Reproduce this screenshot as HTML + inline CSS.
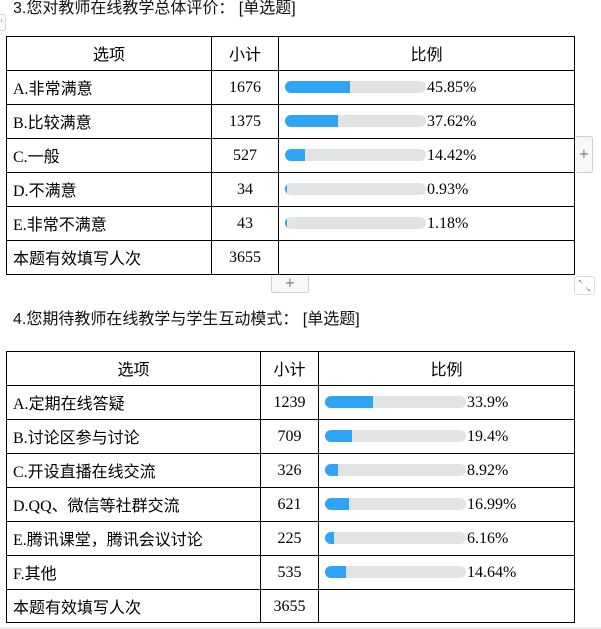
<!DOCTYPE html>
<html><head><meta charset="utf-8">
<style>
html,body{margin:0;padding:0;background:#fff;}
body{width:601px;height:629px;position:relative;overflow:hidden;font-family:"Liberation Serif","Noto Sans CJK SC",serif;color:#000;}
.t{position:absolute;font-family:"Liberation Sans","Noto Sans CJK SC",sans-serif;font-size:16px;line-height:18px;white-space:nowrap;color:#111;}
.h{position:absolute;background:#000;height:1px;}
.v{position:absolute;background:#000;width:1px;}
.c{position:absolute;font-size:16px;line-height:34px;height:34px;white-space:nowrap;font-family:"Liberation Serif","Noto Sans CJK SC",serif;}
.n{margin-top:1px;}
.cn{font-family:"Noto Sans CJK SC","Liberation Sans",sans-serif;}
.bar{position:absolute;width:141px;height:12px;background:#e2e3e5;border-radius:6px;overflow:hidden;}
.bar i{position:absolute;left:0;top:0;bottom:0;background:#2fa3f6;}
.pct{position:absolute;font-size:16px;line-height:34px;height:34px;margin-top:1px;font-family:"Liberation Serif",serif;}
</style></head><body>

<!-- left tab -->
<div style="position:absolute;left:-3px;top:14px;width:7px;height:15px;border:1px solid #d8d8d8;border-radius:2px;background:#fafafa;"></div>
<div style="position:absolute;left:0px;top:17px;font-size:8px;line-height:8px;color:#888;font-family:'DejaVu Sans',sans-serif;">›</div>

<div class="t" style="left:13px;top:0px;">3.您对教师在线教学总体评价：&nbsp;[单选题]</div>

<!-- Table 1 grid -->
<div class="h" style="left:6px;width:569px;top:36px;"></div>
<div class="h" style="left:6px;width:569px;top:70px;"></div>
<div class="h" style="left:6px;width:569px;top:104px;"></div>
<div class="h" style="left:6px;width:569px;top:138px;"></div>
<div class="h" style="left:6px;width:569px;top:172px;"></div>
<div class="h" style="left:6px;width:569px;top:206px;"></div>
<div class="h" style="left:6px;width:569px;top:240px;"></div>
<div class="h" style="left:6px;width:569px;top:274px;"></div>
<div class="v" style="left:6px;top:36px;height:239px;"></div>
<div class="v" style="left:211px;top:36px;height:239px;"></div>
<div class="v" style="left:278px;top:36px;height:239px;"></div>
<div class="v" style="left:574px;top:36px;height:239px;"></div>

<div class="c cn" style="left:7px;width:204px;text-align:center;top:36px;">选项</div>
<div class="c cn" style="left:212px;width:66px;text-align:center;top:36px;">小计</div>
<div class="c cn" style="left:279px;width:295px;text-align:center;top:36px;">比例</div>

<div class="c" style="left:13px;top:70px;">A.<span class="cn">非常满意</span></div>
<div class="c n" style="left:212px;width:66px;text-align:center;top:70px;">1676</div>
<div class="bar" style="left:285px;top:81px;"><i style="width:65px"></i></div>
<div class="pct" style="left:427px;top:70px;">45.85%</div>

<div class="c" style="left:13px;top:104px;">B.<span class="cn">比较满意</span></div>
<div class="c n" style="left:212px;width:66px;text-align:center;top:104px;">1375</div>
<div class="bar" style="left:285px;top:115px;"><i style="width:53px"></i></div>
<div class="pct" style="left:427px;top:104px;">37.62%</div>

<div class="c" style="left:13px;top:138px;">C.<span class="cn">一般</span></div>
<div class="c n" style="left:212px;width:66px;text-align:center;top:138px;">527</div>
<div class="bar" style="left:285px;top:149px;"><i style="width:20px"></i></div>
<div class="pct" style="left:427px;top:138px;">14.42%</div>

<div class="c" style="left:13px;top:172px;">D.<span class="cn">不满意</span></div>
<div class="c n" style="left:212px;width:66px;text-align:center;top:172px;">34</div>
<div class="bar" style="left:285px;top:183px;"><i style="width:1.5px"></i></div>
<div class="pct" style="left:427px;top:172px;">0.93%</div>

<div class="c" style="left:13px;top:206px;">E.<span class="cn">非常不满意</span></div>
<div class="c n" style="left:212px;width:66px;text-align:center;top:206px;">43</div>
<div class="bar" style="left:285px;top:217px;"><i style="width:2px"></i></div>
<div class="pct" style="left:427px;top:206px;">1.18%</div>

<div class="c cn" style="left:13px;top:240px;">本题有效填写人次</div>
<div class="c n" style="left:212px;width:66px;text-align:center;top:240px;">3655</div>

<!-- buttons -->
<div style="position:absolute;left:576px;top:136px;width:16px;height:35px;border:1px solid #cfcfcf;border-left:none;border-radius:0 3px 3px 0;background:#f8f8f8;color:#777;font-family:'DejaVu Sans',sans-serif;font-size:13px;line-height:35px;text-align:center;">+</div>
<div style="position:absolute;left:271px;top:275px;width:36px;height:17px;border:1px solid #cfcfcf;border-top:none;border-radius:0 0 3px 3px;background:#f8f8f8;color:#777;font-family:'DejaVu Sans',sans-serif;font-size:13px;line-height:17px;text-align:center;">+</div>
<div style="position:absolute;left:574px;top:276px;width:19px;height:17px;border:1px solid #dcdcdc;border-radius:3px;background:#fff;color:#888;font-family:'DejaVu Sans',sans-serif;font-size:7px;line-height:7px;">
<span style="position:absolute;left:3px;top:2px;">↖</span><span style="position:absolute;left:10px;top:9px;">↘</span></div>

<div class="t" style="left:13px;top:311px;">4.您期待教师在线教学与学生互动模式：&nbsp;[单选题]</div>

<!-- Table 2 grid -->
<div class="h" style="left:6px;width:569px;top:351px;"></div>
<div class="h" style="left:6px;width:569px;top:385px;"></div>
<div class="h" style="left:6px;width:569px;top:419px;"></div>
<div class="h" style="left:6px;width:569px;top:453px;"></div>
<div class="h" style="left:6px;width:569px;top:487px;"></div>
<div class="h" style="left:6px;width:569px;top:521px;"></div>
<div class="h" style="left:6px;width:569px;top:555px;"></div>
<div class="h" style="left:6px;width:569px;top:589px;"></div>
<div class="h" style="left:6px;width:569px;top:622px;"></div>
<div class="v" style="left:6px;top:351px;height:272px;"></div>
<div class="v" style="left:260px;top:351px;height:272px;"></div>
<div class="v" style="left:318px;top:351px;height:272px;"></div>
<div class="v" style="left:574px;top:351px;height:272px;"></div>

<div class="c cn" style="left:7px;width:253px;text-align:center;top:351px;">选项</div>
<div class="c cn" style="left:261px;width:57px;text-align:center;top:351px;">小计</div>
<div class="c cn" style="left:319px;width:255px;text-align:center;top:351px;">比例</div>

<div class="c" style="left:13px;top:385px;">A.<span class="cn">定期在线答疑</span></div>
<div class="c n" style="left:261px;width:57px;text-align:center;top:385px;">1239</div>
<div class="bar" style="left:325px;top:396px;"><i style="width:48px"></i></div>
<div class="pct" style="left:467px;top:385px;">33.9%</div>

<div class="c" style="left:13px;top:419px;">B.<span class="cn">讨论区参与讨论</span></div>
<div class="c n" style="left:261px;width:57px;text-align:center;top:419px;">709</div>
<div class="bar" style="left:325px;top:430px;"><i style="width:27px"></i></div>
<div class="pct" style="left:467px;top:419px;">19.4%</div>

<div class="c" style="left:13px;top:453px;">C.<span class="cn">开设直播在线交流</span></div>
<div class="c n" style="left:261px;width:57px;text-align:center;top:453px;">326</div>
<div class="bar" style="left:325px;top:464px;"><i style="width:12.5px"></i></div>
<div class="pct" style="left:467px;top:453px;">8.92%</div>

<div class="c" style="left:13px;top:487px;">D.QQ<span class="cn">、微信等社群交流</span></div>
<div class="c n" style="left:261px;width:57px;text-align:center;top:487px;">621</div>
<div class="bar" style="left:325px;top:498px;"><i style="width:24px"></i></div>
<div class="pct" style="left:467px;top:487px;">16.99%</div>

<div class="c" style="left:13px;top:521px;">E.<span class="cn">腾讯课堂，腾讯会议讨论</span></div>
<div class="c n" style="left:261px;width:57px;text-align:center;top:521px;">225</div>
<div class="bar" style="left:325px;top:532px;"><i style="width:8.7px"></i></div>
<div class="pct" style="left:467px;top:521px;">6.16%</div>

<div class="c" style="left:13px;top:555px;">F.<span class="cn">其他</span></div>
<div class="c n" style="left:261px;width:57px;text-align:center;top:555px;">535</div>
<div class="bar" style="left:325px;top:566px;"><i style="width:20.5px"></i></div>
<div class="pct" style="left:467px;top:555px;">14.64%</div>

<div class="c cn" style="left:13px;top:589px;">本题有效填写人次</div>
<div class="c n" style="left:261px;width:57px;text-align:center;top:589px;">3655</div>

<div style="position:absolute;left:0;top:627px;width:601px;height:2px;background:#ebebeb;"></div>
</body></html>
